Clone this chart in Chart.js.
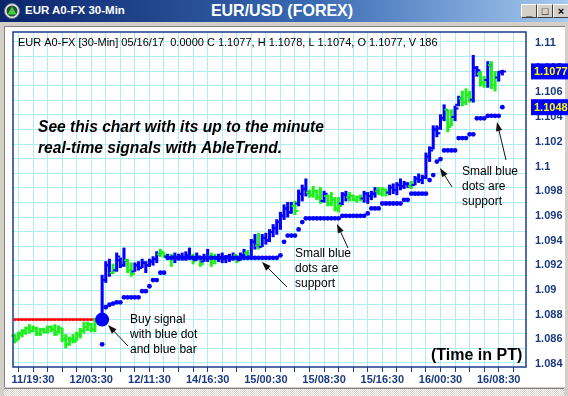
<!DOCTYPE html>
<html>
<head>
<meta charset="utf-8">
<script src="https://cdn.jsdelivr.net/npm/chart.js@4.4.1/dist/chart.umd.min.js"></script>
<style>
  body { margin: 0; width: 568px; height: 396px; overflow: hidden; background: #d4d0c8; position: relative; font-family: "Liberation Sans", Arial, sans-serif; }
  #titlebar { position: absolute; left: 0; top: 0; width: 568px; height: 22px; background: linear-gradient(to right, #0a246a 0%, #3a6ab4 55%, #a6caf0 100%); }
  #icon { position: absolute; left: 4px; top: 3px; }
  #t1 { position: absolute; left: 25px; top: 4px; color: #fff; font: bold 11.5px "Liberation Sans", Arial, sans-serif; }
  #t2 { position: absolute; left: 0; width: 564px; top: 2px; text-align: center; color: #fff; font: bold 16px "Liberation Sans", Arial, sans-serif; }
  .btn { position: absolute; top: 4px; width: 14px; height: 12px; background: #d4d0c8; border-top: 1px solid #fff; border-left: 1px solid #fff; border-right: 1px solid #404040; border-bottom: 1px solid #404040; font: bold 11px "Liberation Sans", Arial; color: #000; text-align: center; line-height: 12px; }
  #panel { position: absolute; left: 4px; top: 26px; width: 560px; height: 360px; background: #fff; border-top: 1px solid #808080; border-left: 1px solid #808080; }
  #scroll { position: absolute; left: 4px; top: 388px; width: 560px; height: 8px; background-image: repeating-conic-gradient(#ffffff 0 25%, #d4d0c8 0 50%); background-size: 2px 2px; border-top: 1px solid #808080; }
  #c { position: absolute; left: 0; top: 0; }
</style>
</head>
<body>
<div id="titlebar">
  <svg id="icon" width="16" height="16" viewBox="0 0 16 16">
    <circle cx="8" cy="8" r="7.5" fill="#e8e8e8" stroke="#6a7a8a"/>
    <circle cx="8" cy="8" r="5.5" fill="#2a4a3a"/>
    <polygon points="8,3.5 12.5,11.5 3.5,11.5" fill="#3ccf3c"/>
  </svg>
  <div id="t2">EUR/USD (FOREX)</div>
  <div id="t1">EUR A0-FX 30-Min</div>
  <div class="btn" style="left:521px">_</div>
  <div class="btn" style="left:537px">&#9633;</div>
  <div class="btn" style="left:553px">&#215;</div>
</div>
<div id="panel"></div>
<div id="scroll"></div>
<canvas id="c" width="568" height="396"></canvas>
<script>
// 30-minute bars: [open, high, low, close]
const bars = [
  [1.0863,1.0864,1.0857,1.0859],[1.0860,1.0866,1.0860,1.0865],[1.0864,1.0868,1.0862,1.0867],[1.0866,1.0870,1.0864,1.0869],
  [1.0869,1.0872,1.0865,1.0867],[1.0867,1.0871,1.0866,1.0869],[1.0869,1.0870,1.0863,1.0865],[1.0865,1.0869,1.0863,1.0868],
  [1.0868,1.0869,1.0865,1.0866],[1.0866,1.0871,1.0865,1.0870],[1.0870,1.0871,1.0866,1.0868],[1.0868,1.0872,1.0863,1.0864],
  [1.0866,1.0871,1.0865,1.0869],[1.0869,1.0869,1.0858,1.0860],[1.0860,1.0864,1.0853,1.0856],[1.0856,1.0862,1.0855,1.0860],
  [1.0860,1.0864,1.0857,1.0858],[1.0860,1.0866,1.0859,1.0864],[1.0864,1.0869,1.0861,1.0867],[1.0867,1.0874,1.0865,1.0870],
  [1.0870,1.0874,1.0867,1.0872],[1.0872,1.0873,1.0866,1.0868],[1.0868,1.0877,1.0866,1.0875],[1.0875,1.0879,1.0872,1.0876],
  [1.0876,1.0912,1.0871,1.0908],[1.0908,1.0923,1.0906,1.0920],[1.0920,1.0925,1.0911,1.0914],[1.0914,1.0921,1.0913,1.0916],
  [1.0916,1.0930,1.0915,1.0927],[1.0924,1.0926,1.0918,1.0920],[1.0920,1.0934,1.0919,1.0924],[1.0924,1.0925,1.0914,1.0916],
  [1.0916,1.0922,1.0911,1.0913],[1.0915,1.0922,1.0915,1.0920],[1.0920,1.0923,1.0916,1.0918],[1.0918,1.0925,1.0918,1.0922],
  [1.0922,1.0923,1.0914,1.0920],[1.0920,1.0925,1.0919,1.0923],[1.0923,1.0927,1.0920,1.0925],[1.0925,1.0931,1.0922,1.0929],
  [1.0929,1.0933,1.0927,1.0931],[1.0930,1.0930,1.0926,1.0927],[1.0927,1.0929,1.0925,1.0926],[1.0926,1.0929,1.0919,1.0927],
  [1.0927,1.0930,1.0922,1.0926],[1.0926,1.0929,1.0924,1.0927],[1.0927,1.0930,1.0924,1.0926],[1.0926,1.0931,1.0924,1.0928],
  [1.0928,1.0934,1.0925,1.0927],[1.0927,1.0929,1.0921,1.0924],[1.0924,1.0930,1.0924,1.0927],[1.0926,1.0926,1.0919,1.0921],
  [1.0923,1.0929,1.0923,1.0926],[1.0926,1.0933,1.0923,1.0927],[1.0927,1.0930,1.0919,1.0922],[1.0922,1.0929,1.0921,1.0925],
  [1.0925,1.0929,1.0923,1.0926],[1.0926,1.0930,1.0922,1.0925],[1.0925,1.0928,1.0922,1.0927],[1.0927,1.0929,1.0923,1.0925],
  [1.0925,1.0930,1.0924,1.0928],[1.0928,1.0928,1.0922,1.0924],[1.0924,1.0930,1.0924,1.0928],[1.0928,1.0933,1.0926,1.0930],
  [1.0930,1.0932,1.0925,1.0927],[1.0927,1.0941,1.0926,1.0939],[1.0939,1.0945,1.0933,1.0936],[1.0936,1.0946,1.0933,1.0935],
  [1.0935,1.0945,1.0935,1.0942],[1.0942,1.0946,1.0937,1.0940],[1.0940,1.0949,1.0939,1.0947],[1.0947,1.0953,1.0943,1.0950],
  [1.0950,1.0957,1.0945,1.0955],[1.0955,1.0963,1.0949,1.0960],[1.0960,1.0969,1.0957,1.0966],[1.0966,1.0971,1.0959,1.0963],
  [1.0963,1.0971,1.0962,1.0968],[1.0968,1.0972,1.0961,1.0964],[1.0970,1.0981,1.0968,1.0978],[1.0978,1.0985,1.0972,1.0982],
  [1.0982,1.0990,1.0976,1.0979],[1.0979,1.0981,1.0975,1.0977],[1.0977,1.0984,1.0975,1.0980],[1.0980,1.0981,1.0973,1.0975],
  [1.0975,1.0983,1.0970,1.0972],[1.0972,1.0980,1.0971,1.0978],[1.0976,1.0977,1.0968,1.0970],[1.0970,1.0979,1.0968,1.0973],
  [1.0973,1.0975,1.0964,1.0966],[1.0966,1.0975,1.0963,1.0968],[1.0970,1.0979,1.0969,1.0977],[1.0977,1.0980,1.0972,1.0975],
  [1.0975,1.0979,1.0972,1.0976],[1.0976,1.0977,1.0972,1.0973],[1.0973,1.0976,1.0971,1.0975],[1.0975,1.0977,1.0972,1.0974],
  [1.0974,1.0980,1.0971,1.0978],[1.0978,1.0979,1.0970,1.0976],[1.0976,1.0980,1.0973,1.0978],[1.0978,1.0983,1.0975,1.0980],
  [1.0980,1.0983,1.0977,1.0978],[1.0978,1.0983,1.0976,1.0981],[1.0981,1.0982,1.0976,1.0979],[1.0979,1.0985,1.0977,1.0983],
  [1.0983,1.0986,1.0978,1.0981],[1.0981,1.0987,1.0977,1.0985],[1.0985,1.0990,1.0981,1.0984],[1.0984,1.0988,1.0982,1.0986],
  [1.0986,1.0987,1.0983,1.0984],[1.0984,1.0988,1.0982,1.0985],[1.0985,1.0992,1.0985,1.0990],[1.0990,1.0994,1.0987,1.0989],
  [1.0989,1.0993,1.0986,1.0991],[1.0991,1.1011,1.0990,1.1008],[1.1008,1.1016,1.1004,1.1013],[1.1015,1.1033,1.1014,1.1030],
  [1.1030,1.1033,1.1024,1.1027],[1.1031,1.1042,1.1030,1.1039],[1.1039,1.1050,1.1037,1.1046],[1.1046,1.1046,1.1028,1.1032],
  [1.1034,1.1046,1.1033,1.1040],[1.1040,1.1049,1.1037,1.1047],[1.1050,1.1057,1.1049,1.1055],[1.1055,1.1061,1.1049,1.1052],
  [1.1052,1.1063,1.1050,1.1058],[1.1058,1.1061,1.1052,1.1054],[1.1054,1.1090,1.1052,1.1080],[1.1080,1.1081,1.1073,1.1078],
  [1.1075,1.1077,1.1065,1.1068],[1.1068,1.1073,1.1064,1.1070],[1.1070,1.1085,1.1064,1.1082],[1.1082,1.1085,1.1063,1.1066],
  [1.1066,1.1077,1.1061,1.1072],[1.1072,1.1077,1.1069,1.1076],[1.1077,1.1078,1.1074,1.1077]
];
// bar colour per bar: g = neutral (green), b = uptrend (blue)
const trend = [...
  'gggggggggg' + 'gggggggggg' + 'ggggbbbgbb' + 'bggbbbbbbb' + 'ggbgbbbbbg' +
  'bgbbggbbbb' + 'bgbbgbbgbb' + 'bbbbbbbgbb' + 'bggggbgggg' + 'bbggggbbbb' +
  'gggbbbbbbg' + 'bbbbbbbbbg' + 'gbbgggbbgg' + 'bggbb'];
// small blue support dots (null where none)
const support = [
  null,null,null,null,null,null,null,null,null,null,null,null,null,null,null,null,null,null,null,null,null,null,null,null,
  1.0856,1.0886,1.0888,1.0889,1.0890,1.0890,1.0894,1.0894,1.0894,1.0894,1.0894,1.0899,1.0899,1.0903,1.0908,1.0908,
  1.0914,1.0914,1.0926,1.0926,1.0926,1.0926,1.0926,1.0926,1.0926,1.0926,1.0926,1.0926,1.0926,1.0926,1.0926,1.0926,
  1.0926,1.0926,1.0926,1.0926,1.0926,1.0926,1.0926,1.0926,1.0926,1.0926,1.0926,1.0926,1.0926,1.0926,1.0926,1.0926,
  1.0926,1.0928,1.0939,1.0944,1.0944,1.0944,1.0949,1.0955,1.0958,1.0958,1.0958,1.0958,1.0958,1.0958,1.0958,1.0958,
  1.0958,1.0958,1.0960,1.0960,1.0960,1.0960,1.0960,1.0960,1.0960,1.0962,1.0966,1.0966,1.0966,1.0970,1.0970,1.0970,
  1.0970,1.0970,1.0970,1.0973,1.0973,1.0978,1.0978,1.0978,1.0978,1.0978,1.0989,1.0993,1.1004,1.1006,1.1013,1.1013,
  1.1013,1.1013,1.1023,1.1023,1.1023,1.1026,1.1026,1.1039,1.1039,1.1039,1.1041,1.1041,1.1041,1.1041,1.1048
];
// red resistance dots before the buy signal
const stopDots = [1.0876,1.0876,1.0876,1.0876,1.0876,1.0876,1.0876,1.0876,1.0876,1.0876,1.0876,1.0876,
                  1.0876,1.0876,1.0876,1.0876,1.0876,1.0876,1.0876,1.0876,1.0876,1.0876,1.0876,1.0876];
const buyIndex = 24;
const buyPrice = 1.0876;

const xTickIdx = [5, 21, 37, 53, 69, 85, 101, 117, 133];
const xTickText = ['11/19:30', '12/03:30', '12/11:30', '14/16:30', '15/00:30', '15/08:30', '15/16:30', '16/00:30', '16/08:30'];
const yTicks = [1.084, 1.086, 1.088, 1.09, 1.092, 1.094, 1.096, 1.098, 1.1, 1.102, 1.104, 1.106, 1.108, 1.11];
const priceFlags = [1.1077, 1.1048];
const headerText = 'EUR A0-FX [30-Min] 05/16/17  0.0000 C 1.1077, H 1.1078, L 1.1074, O 1.1077, V 186';

const blue = '#0000ff', green = '#1ef01e', red = '#ff0000', gridColor = '#aeeef2', axisText = '#1b3a80';
const trendColor = { b: blue, g: green };
const sans = '"Liberation Sans", Arial, sans-serif';

const notes = [
  { t: 'See this chart with its up to the minute', x: 38, y: 128, f: 'italic bold 15.6px ' + sans },
  { t: 'real-time signals with AbleTrend.', x: 38, y: 149, f: 'italic bold 15.6px ' + sans },
  { t: 'Buy signal', x: 130, y: 320, f: '12px ' + sans },
  { t: 'with blue dot', x: 130, y: 335, f: '12px ' + sans },
  { t: 'and blue bar', x: 130, y: 350, f: '12px ' + sans },
  { t: 'Small blue', x: 295, y: 254, f: '12px ' + sans },
  { t: 'dots are', x: 295, y: 269, f: '12px ' + sans },
  { t: 'support', x: 295, y: 284, f: '12px ' + sans },
  { t: 'Small blue', x: 462, y: 172, f: '12px ' + sans },
  { t: 'dots are', x: 462, y: 187, f: '12px ' + sans },
  { t: 'support', x: 462, y: 202, f: '12px ' + sans },
  { t: '(Time in PT)', x: 431, y: 356, f: 'bold 16px ' + sans }
];
const arrows = [[128, 346, 108, 325], [287, 287, 262, 262], [348, 248, 337, 224], [452, 187, 440, 168], [506, 160, 497, 122]];

const ohlcTicks = {
  id: 'ohlcTicks',
  afterDatasetDraw(chart, args) {
    if (args.index !== 1) return;
    const { ctx, scales: { x, y } } = chart;
    ctx.save();
    ctx.lineWidth = 2;
    bars.forEach((b, i) => {
      const px = x.getPixelForValue(i);
      ctx.strokeStyle = trendColor[trend[i]];
      ctx.beginPath();
      ctx.moveTo(px - 3.5, y.getPixelForValue(b[0]));
      ctx.lineTo(px, y.getPixelForValue(b[0]));
      ctx.moveTo(px, y.getPixelForValue(b[3]));
      ctx.lineTo(px + 3.5, y.getPixelForValue(b[3]));
      ctx.stroke();
    });
    ctx.restore();
  }
};

function arrow(ctx, x1, y1, x2, y2) {
  const a = Math.atan2(y2 - y1, x2 - x1);
  ctx.beginPath();
  ctx.moveTo(x1, y1);
  ctx.lineTo(x2 - 6 * Math.cos(a), y2 - 6 * Math.sin(a));
  ctx.stroke();
  ctx.beginPath();
  ctx.moveTo(x2, y2);
  ctx.lineTo(x2 - 9 * Math.cos(a) + 3.2 * Math.sin(a), y2 - 9 * Math.sin(a) - 3.2 * Math.cos(a));
  ctx.lineTo(x2 - 9 * Math.cos(a) - 3.2 * Math.sin(a), y2 - 9 * Math.sin(a) + 3.2 * Math.cos(a));
  ctx.closePath();
  ctx.fill();
}

const decor = {
  id: 'decor',
  afterDraw(chart) {
    const { ctx, chartArea: a, scales: { y } } = chart;
    ctx.save();
    ctx.strokeStyle = '#1a3c8c';
    ctx.lineWidth = 1.5;
    ctx.strokeRect(a.left, a.top, a.right - a.left, a.bottom - a.top);
    ctx.fillStyle = '#000';
    ctx.textBaseline = 'middle';
    ctx.font = '11px ' + sans;
    ctx.fillText(headerText, a.left + 5, a.top + 11);
    notes.forEach(n => { ctx.font = n.f; ctx.fillText(n.t, n.x, n.y); });
    ctx.strokeStyle = '#111';
    ctx.fillStyle = '#111';
    ctx.lineWidth = 1;
    arrows.forEach(r => arrow(ctx, r[0], r[1], r[2], r[3]));
    priceFlags.forEach(v => {
      const py = y.getPixelForValue(v);
      ctx.fillStyle = '#0000ff';
      ctx.fillRect(a.right + 5, py - 8, 40, 16);
      ctx.fillStyle = '#ffff00';
      ctx.font = 'bold 11px ' + sans;
      ctx.fillText(v.toFixed(4), a.right + 8, py + 1);
    });
    ctx.restore();
  }
};

new Chart(document.getElementById('c'), {
  type: 'bar',
  data: {
    datasets: [
      { type: 'line', yAxisID: 'y', order: 0, data: [{ x: buyIndex, y: buyPrice }], showLine: false,
        pointRadius: 7, pointBackgroundColor: blue, pointBorderColor: blue, pointBorderWidth: 0 },
      { type: 'bar', yAxisID: 'y', order: 2, data: bars.map((b, i) => ({ x: i, y: [b[2], b[1]] })),
        backgroundColor: trend.map(t => trendColor[t]), barThickness: 2.4, borderWidth: 0, borderSkipped: false },
      { type: 'line', yAxisID: 'y', order: 1, data: support.map((v, i) => ({ x: i, y: v })), showLine: false,
        pointRadius: 2.4, pointBackgroundColor: blue, pointBorderWidth: 0 },
      { type: 'line', yAxisID: 'y', order: 3, data: stopDots.map((v, i) => ({ x: i, y: v })), borderColor: red,
        borderWidth: 2, pointRadius: 1.8, pointStyle: 'rect', pointBackgroundColor: red, pointBorderWidth: 0 }
    ]
  },
  options: {
    responsive: false,
    devicePixelRatio: 1,
    animation: false,
    events: [],
    layout: { padding: { left: 13, top: 32, right: 0, bottom: 7 } },
    plugins: { legend: { display: false }, tooltip: { enabled: false } },
    scales: {
      x: {
        type: 'linear', position: 'bottom', min: -0.5, max: 140.5, offset: false,
        afterBuildTicks: s => { const t = []; for (let v = 1; v < 141; v += 4) t.push({ value: v }); s.ticks = t; },
        afterFit: s => { s.height = 22; },
        ticks: { autoSkip: false, maxRotation: 0, padding: 1, color: axisText, font: { family: sans, size: 11, weight: 'bold' },
                 callback: v => { const k = xTickIdx.indexOf(v); return k >= 0 ? xTickText[k] : ''; } },
        grid: { offset: false, color: gridColor, tickColor: axisText, tickLength: 5 },
        border: { display: false }
      },
      y: {
        type: 'linear', position: 'right', min: 1.08376, max: 1.11089,
        afterBuildTicks: s => { s.ticks = yTicks.map(v => ({ value: v })); },
        afterFit: s => { s.width = 42; },
        ticks: { padding: 9, color: axisText, font: { family: sans, size: 11, weight: 'bold' },
                 callback: v => String(Number(v.toFixed(3))) },
        grid: { display: false, drawTicks: false },
        border: { display: false }
      },
      yGrid: {
        axis: 'y', type: 'linear', position: 'left', min: -0.275, max: 22.68,
        afterFit: s => { s.width = 0; },
        ticks: { display: false, stepSize: 1, includeBounds: false },
        grid: { color: gridColor, drawTicks: false },
        border: { display: false }
      }
    }
  },
  plugins: [ohlcTicks, decor]
});
</script>
</body>
</html>
